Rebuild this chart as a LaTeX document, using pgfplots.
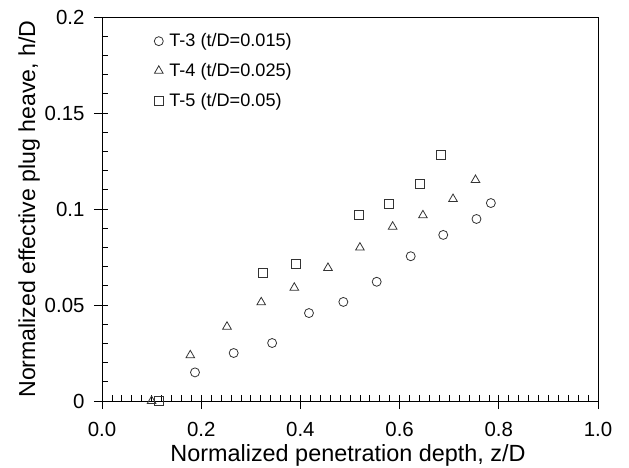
\documentclass[border=0pt]{standalone}
\usepackage{fontspec}
\setmainfont{Liberation Sans}
\usepackage{pgfplots}
\pgfplotsset{compat=1.18}
\definecolor{mk}{rgb}{0.2,0.2,0.2}

\begin{document}
\begin{tikzpicture}
\begin{axis}[
  scale only axis,
  width=496bp, height=384bp,
  xmin=0, xmax=1, ymin=0, ymax=0.2,
  xtick={0,0.2,0.4,0.6,0.8,1.0},
  ytick={0,0.05,0.1,0.15,0.2},
  minor x tick num=9,
  minor y tick num=4,
  xtick pos=bottom, ytick pos=left,
  tick align=inside,
  major tick length=6bp, minor tick length=6bp,
  tick style={black, line width=0.7pt},
  extra x ticks={0,0.2,0.4,0.6,0.8,1.0},
  extra y ticks={0,0.05,0.1,0.15,0.2},
  extra x tick labels={}, extra y tick labels={},
  extra tick style={tick align=outside, major tick length=8bp},
  xticklabel style={/pgf/number format/fixed, /pgf/number format/fixed zerofill,
    /pgf/number format/precision=1, yshift=-18bp},
  yticklabel style={/pgf/number format/fixed, /pgf/number format/precision=2, xshift=-14bp},
  /pgf/number format/assume math mode=true,
  tick label style={font=\fontsize{20.5}{24}\selectfont, text=black},
  xlabel={Normalized penetration depth, z/D},
  ylabel={Normalized effective plug heave, h/D},
  xlabel style={font=\fontsize{23.5}{28}\selectfont, text=black,
    at={(axis description cs:0.496,0)}, anchor=base, yshift=-60.5bp},
  ylabel style={font=\fontsize{23.2}{28}\selectfont, text=black,
    at={(axis description cs:-0.135,0.5)}, anchor=base},
  axis line style={black, line width=0.8pt},
  legend style={at={(0.099,0.967)}, anchor=north west, draw=none, fill=none,
    font=\fontsize{18.2}{21}\selectfont, row sep=11bp, column sep=4bp, text=black},
  legend cell align=left,
  clip=false,
]
\addplot[only marks, mark=o, mark size=4.5bp, mark options={mk, line width=0.8pt}] coordinates {
  (0.1875,0.0149) (0.2655,0.025) (0.343,0.0302) (0.4173,0.0458) (0.4866,0.0516)
  (0.5538,0.0621) (0.6224,0.0754) (0.688,0.0865) (0.755,0.0948) (0.784,0.1031)
};
\addlegendentry{T-3 (t/D=0.015)}
\addplot[only marks, mark=triangle, mark size=5bp, mark options={mk, line width=0.8pt}] coordinates {
  (0.1,0) (0.178,0.0238) (0.252,0.0387) (0.321,0.0514) (0.3877,0.059) (0.4556,0.0693)
  (0.520,0.0799) (0.586,0.0908) (0.647,0.0967) (0.7077,0.1052) (0.753,0.1151)
};
\addlegendentry{T-4 (t/D=0.025)}
\addplot[only marks, mark=square, mark size=4.5bp, mark options={mk, line width=0.8pt}] coordinates {
  (0.1156,0) (0.324,0.0665) (0.39,0.0712) (0.517,0.097) (0.579,0.1026)
  (0.640,0.1129) (0.683,0.128)
};
\addlegendentry{T-5 (t/D=0.05)}
\end{axis}
\pgfresetboundingbox
\path (current axis.south west)+(-102bp,-67bp) rectangle (current axis.north east)+(31bp,17bp);
\end{tikzpicture}
\end{document}
